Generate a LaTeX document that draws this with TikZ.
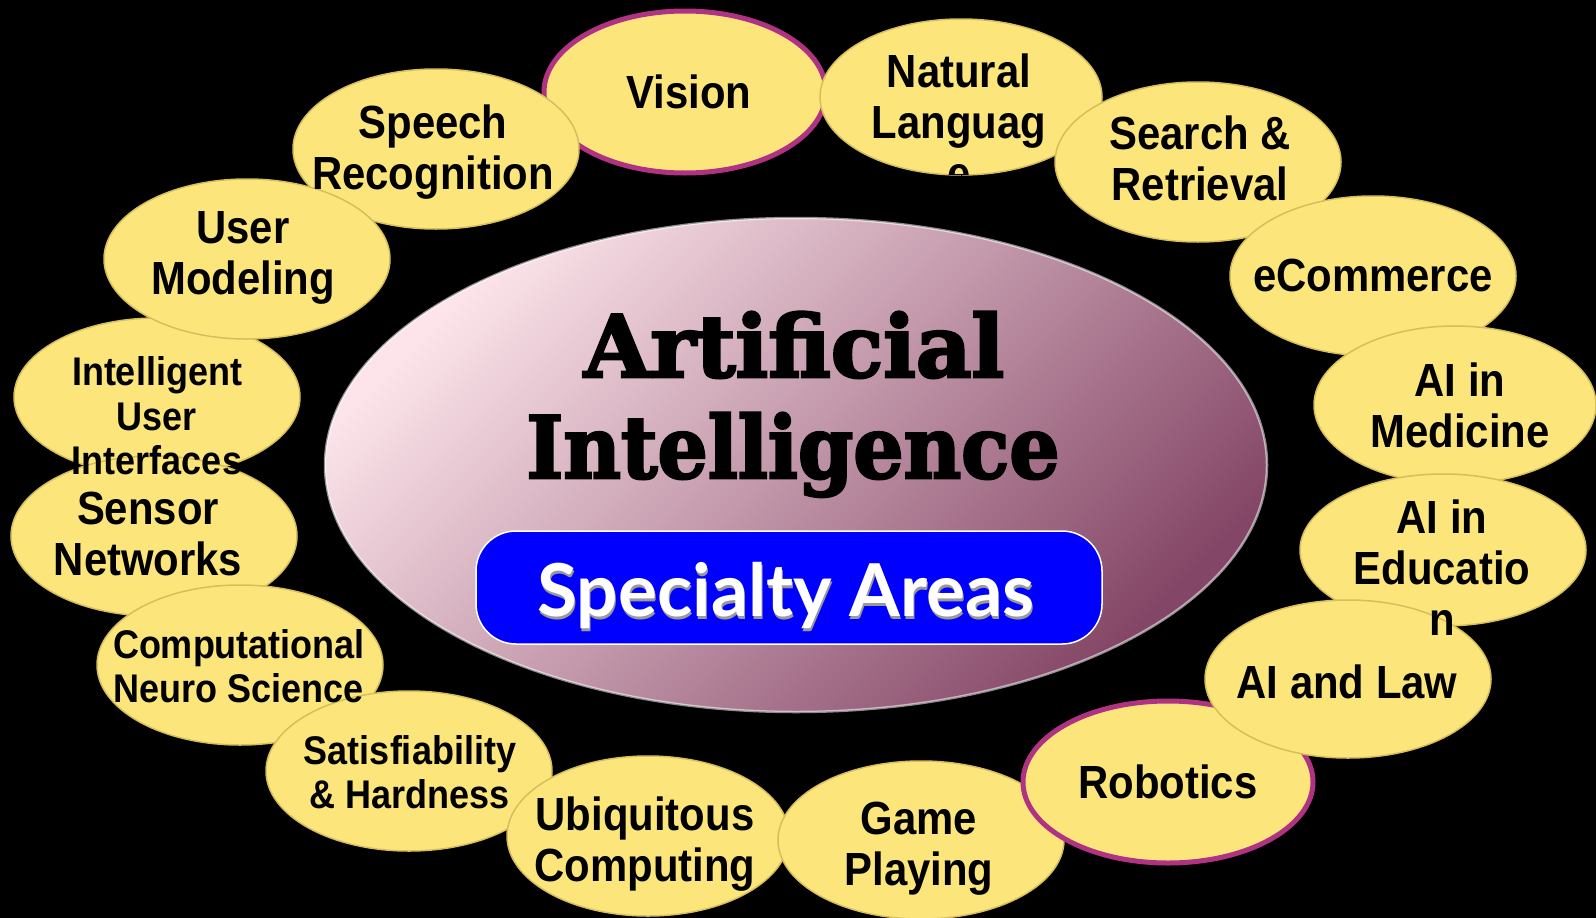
\documentclass[tikz,border=0pt]{standalone}
\usepackage{graphicx}
\usepackage{fontspec}
\setmainfont{Liberation Sans}[FakeStretch=0.9]
\newfontfamily\titlefont{DejaVu Serif}[FakeBold=3]
\newfontfamily\spfont{Lato}
\usetikzlibrary{shapes.geometric}
\definecolor{bub}{RGB}{252,230,124}
\definecolor{bubedge}{RGB}{214,190,92}
\definecolor{mag}{RGB}{176,50,130}
\definecolor{pinkA}{RGB}{252,228,234}
\definecolor{pinkM}{RGB}{214,170,184}
\definecolor{pinkB}{RGB}{132,70,102}
\definecolor{spblue}{RGB}{0,0,255}
\begin{document}
\begin{tikzpicture}[x=1pt,y=-1pt,
  bubble/.style={ellipse, fill=bub, draw=bubedge, line width=1.5pt, inner sep=0pt},
  magbubble/.style={bubble, draw=mag, line width=5pt},
  lbl/.style={align=center, inner sep=0pt, font=\fontsize{46.5}{51}\selectfont\bfseries},
  lbls/.style={align=center, inner sep=0pt, font=\fontsize{40}{44.5}\selectfont\bfseries},
  ttl/.style={font=\titlefont\bfseries\fontsize{86}{86}\selectfont, anchor=base},
  spec/.style={font=\spfont\bfseries\fontsize{73}{73}\selectfont, anchor=base}]
\fill[black] (0,0) rectangle (1596,918);
\useasboundingbox (0,0) rectangle (1596,918);

% centre
\node[ellipse, inner sep=0pt, minimum width=942pt, minimum height=494pt,
  top color=pinkA, middle color=pinkM, bottom color=pinkB, shading angle=45,
  draw=white, draw opacity=0.55, line width=2.5pt] (ai) at (796,465) {};
\node[ttl] (tart) at (794,377) {Artificial};
\node[ttl] (tint) at (793,478) {\scalebox{0.92}[1]{Intelligence}};
\node[draw=white, line width=1.5pt, fill=spblue, rounded corners=40pt, minimum width=626pt, minimum height=113pt] (sa) at (789,587.5) {};
\node[spec, text=gray!80] (sash) at (787,619) {Specialty Areas};
\node[spec, text=white] (satxt) at (786,616) {Specialty Areas};

% bubbles (draw order matters)
\node[magbubble, minimum width=282pt, minimum height=162pt] (e1) at (685,92) {};
\node[bubble, minimum width=286pt, minimum height=160pt] (e16) at (436,149) {};
\node[bubble, minimum width=286pt, minimum height=158pt] (e14) at (157,397) {};
\node[bubble, minimum width=286pt, minimum height=160pt] (e15) at (247,259) {};
\node[bubble, minimum width=286pt, minimum height=160pt] (e13) at (154,536) {};
\node[bubble, minimum width=286pt, minimum height=160pt] (e12) at (240,665) {};
\node[bubble, minimum width=286pt, minimum height=160pt] (e11) at (409,771) {};
\node[bubble, minimum width=282pt, minimum height=160pt] (e10) at (648,836) {};
\node[bubble, minimum width=286pt, minimum height=158pt] (e9) at (921,840) {};
\node[magbubble, minimum width=290pt, minimum height=162pt] (e8) at (1168,782) {};
\node[bubble, minimum width=282pt, minimum height=156pt] (e2) at (961,97) {};
\node[bubble, minimum width=286pt, minimum height=160pt] (e3) at (1198,162) {};
\node[bubble, minimum width=286pt, minimum height=160pt] (e4) at (1373,276) {};
\node[bubble, minimum width=282pt, minimum height=158pt] (e5) at (1455,405) {};
\node[bubble, minimum width=286pt, minimum height=152pt] (e6) at (1443,550) {};
\node[bubble, minimum width=286pt, minimum height=158pt] (e7) at (1348,679) {};

% labels
\node[lbl] (t1) at (689,92) {Vision};
\begin{scope}
\clip (961,97) ellipse [x radius=141, y radius=78];
\node[lbl] (t2) at (959,122) {Natural\\Languag\\e};
\end{scope}
\node[lbl] (t3) at (1200,158) {Search \&\\Retrieval};
\node[lbl] (t4) at (1373,275) {eCommerce};
\node[lbl] (t5) at (1460,405) {AI in\\Medicine};
\node[lbl] (t6) at (1442,568) {AI in\\Educatio\\n};
\node[lbl] (t7) at (1347,682) {AI and Law};
\node[lbl] (t8) at (1168,782) {Robotics};
\node[lbl] (t9) at (919,849) {Game\\Playing};
\node[lbl] (t10) at (645,844) {Ubiquitous\\Computing};
\node[lbls] (t11) at (410,772) {Satisfiability\\\& Hardness};
\node[lbls] (t12) at (239,666) {Computational\\Neuro Science};
\node[lbl] (t13) at (148,534) {Sensor\\Networks};
\node[lbls] (t14) at (157,416) {Intelligent\\User\\Interfaces};
\node[lbl] (t15) at (243,258) {User\\Modeling};
\node[lbl] (t16) at (433,152) {Speech\\Recognition};
\end{tikzpicture}
\end{document}
